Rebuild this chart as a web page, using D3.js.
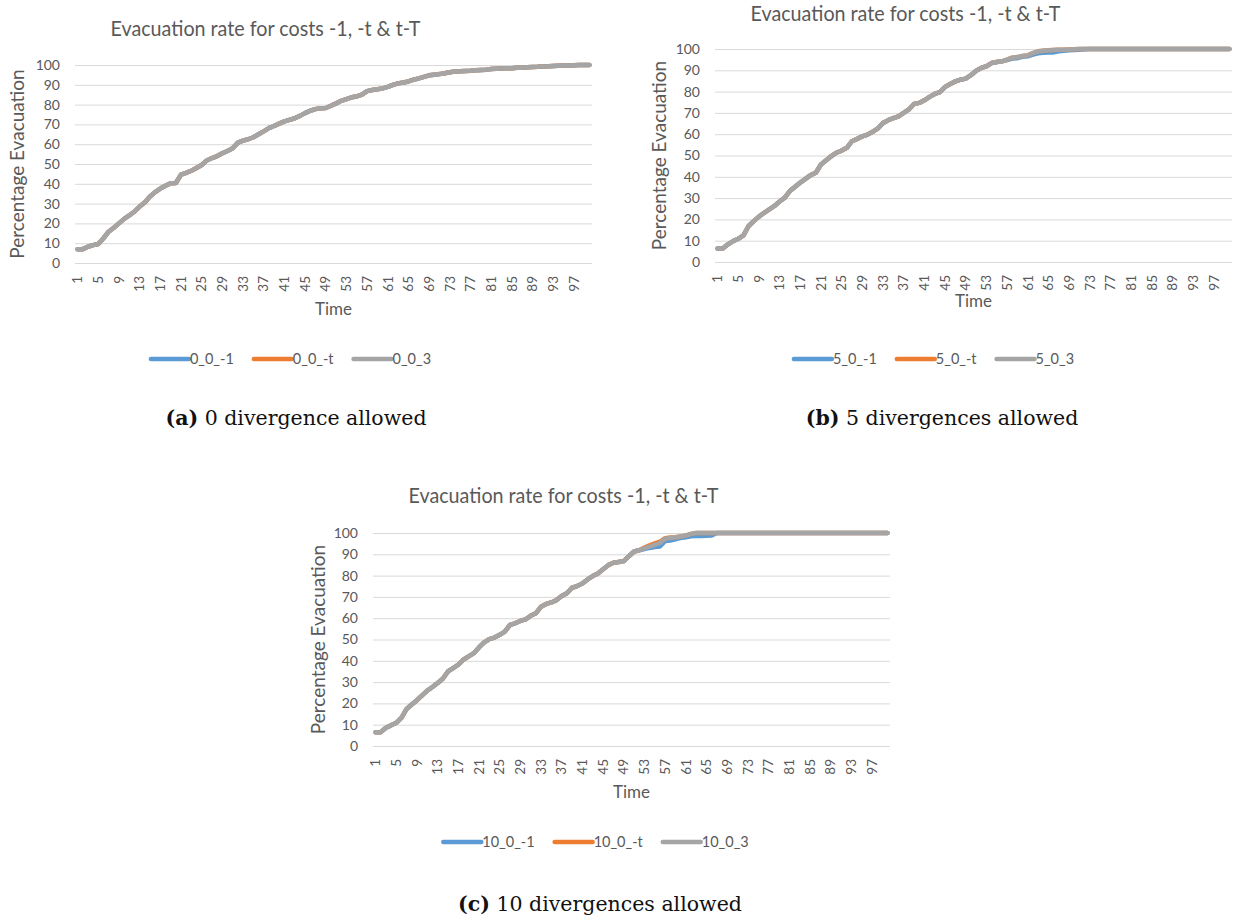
<!DOCTYPE html>
<html>
<head>
<meta charset="utf-8">
<script src="https://cdn.jsdelivr.net/npm/d3@7"></script>
<style>
  html, body { margin: 0; padding: 0; background: #ffffff; }
  svg { display: block; }
</style>
</head>
<body>
<svg id="fig" width="1237" height="920"></svg>
<script>
// ---------------- DATA ----------------
const timeSteps = d3.range(1, 101);                 // categories 1..100
const xTickLabels = [1,5,9,13,17,21,25,29,33,37,41,45,49,53,57,61,65,69,73,77,81,85,89,93,97];
const yTickLabels = [0,10,20,30,40,50,60,70,80,90,100];
const chartTitle = "Evacuation rate for costs -1, -t & t-T";
const xAxisTitle = "Time";
const yAxisTitle = "Percentage Evacuation";
const seriesColors = ["#5B9BD5", "#ED7D31", "#A5A5A5"];

// (a) 0 divergence
const a_names = ["0_0_-1", "0_0_-t", "0_0_3"];
const a_3 = [7.0,7.0,8.2,9.0,9.6,12.5,15.8,17.8,20.0,22.3,
  24.0,26.0,28.5,30.6,33.6,35.8,37.6,39.0,40.3,40.4,
  44.6,45.5,46.6,48.0,49.5,51.8,53.0,54.0,55.4,56.6,
  58.0,60.8,61.8,62.5,63.5,65.0,66.5,68.1,69.2,70.4,
  71.5,72.3,73.1,74.3,75.7,76.9,77.7,78.2,78.3,79.4,
  80.6,81.9,82.8,83.7,84.1,85.0,86.8,87.4,87.8,88.2,
  89.0,90.0,90.7,91.2,91.7,92.6,93.2,94.0,94.8,95.1,
  95.4,95.8,96.3,96.7,96.8,97.0,97.1,97.3,97.5,97.6,
  98.0,98.1,98.2,98.3,98.4,98.6,98.7,98.9,99.0,99.1,
  99.3,99.4,99.5,99.6,99.7,99.8,99.9,100,100,100];
const a_1 = [7.0,7.0,8.2,9.0,9.6,12.5,15.8,17.8,20.0,22.3,
  24.0,26.0,28.5,30.6,33.6,35.8,37.6,39.0,40.3,40.4,
  44.6,45.5,46.6,48.0,49.5,51.8,53.0,54.0,55.4,56.6,
  58.0,60.8,61.8,62.5,63.5,65.0,66.5,68.1,69.2,70.4,
  71.5,72.3,73.1,74.3,75.7,76.9,77.7,78.2,78.3,79.4,
  80.6,81.9,82.8,83.7,84.1,85.0,86.8,87.4,87.8,88.2,
  89.0,90.0,90.7,91.2,91.7,92.6,93.2,94.0,94.8,95.1,
  95.4,95.8,96.3,96.7,96.8,97.0,97.1,97.3,97.5,97.6,
  98.0,98.1,98.2,98.3,98.4,98.6,98.7,98.9,99.0,99.1,
  99.3,99.4,99.5,99.6,99.7,99.8,99.9,100,100,100];
const a_t = [7.0,7.0,8.2,9.0,9.6,12.5,15.8,17.8,20.0,22.3,
  24.0,26.0,28.5,30.6,33.6,35.8,37.6,39.0,40.3,40.4,
  44.6,45.5,46.6,48.0,49.5,51.8,53.0,54.0,55.4,56.6,
  58.0,60.8,61.8,62.5,63.5,65.0,66.5,68.1,69.2,70.4,
  71.5,72.3,73.1,74.3,75.7,76.9,77.7,78.2,78.3,79.4,
  80.6,81.9,82.8,83.7,84.1,85.0,86.8,87.4,87.8,88.2,
  89.0,90.0,90.7,91.2,91.7,92.6,93.2,94.0,94.8,95.1,
  95.4,95.8,96.3,96.7,96.8,97.0,97.1,97.3,97.5,97.6,
  98.0,98.1,98.2,98.3,98.4,98.6,98.7,98.9,99.0,99.1,
  99.3,99.4,99.5,99.6,99.7,99.8,99.9,100,100,100];

// (b) 5 divergences
const b_names = ["5_0_-1", "5_0_-t", "5_0_3"];
const b_3 = [6.3,6.3,8.3,9.8,10.9,12.5,16.9,19.2,21.3,23.1,
  24.7,26.3,28.4,30.2,33.4,35.3,37.3,39.0,40.8,41.9,
  45.8,47.8,49.7,51.3,52.3,53.6,56.7,57.8,59.0,59.8,
  61.1,62.7,65.3,66.6,67.5,68.4,70.0,71.6,74.2,74.7,
  75.9,77.5,78.9,79.8,82.2,83.6,84.8,85.6,86.1,87.7,
  89.8,91.1,91.9,93.4,93.9,94.2,95.0,95.9,96.2,96.7,
  97.0,98.1,98.9,99.2,99.4,99.5,99.6,99.7,99.8,99.9,
  100,100,100,100,100,100,100,100,100,100,
  100,100,100,100,100,100,100,100,100,100,
  100,100,100,100,100,100,100,100,100,100];
const b_t = [6.3,6.3,8.3,9.8,10.9,12.5,16.9,19.2,21.3,23.1,
  24.7,26.3,28.4,30.2,33.4,35.3,37.3,39.0,40.8,41.9,
  45.8,47.8,49.7,51.3,52.3,53.6,56.7,57.8,59.0,59.8,
  61.1,62.7,65.3,66.6,67.5,68.4,70.0,71.6,74.2,74.7,
  75.9,77.5,78.9,79.8,82.2,83.6,84.8,85.6,86.1,87.7,
  89.8,91.1,91.9,93.4,93.9,94.2,95.0,95.9,96.2,96.7,
  97.0,98.1,98.9,99.2,99.4,99.5,99.6,99.7,99.8,99.9,
  100,100,100,100,100,100,100,100,100,100,
  100,100,100,100,100,100,100,100,100,100,
  100,100,100,100,100,100,100,100,100,100];
const b_1 = [6.3,6.3,8.3,9.8,10.9,12.5,16.9,19.2,21.3,23.1,
  24.7,26.3,28.4,30.2,33.4,35.3,37.3,39.0,40.8,41.9,
  45.8,47.8,49.7,51.3,52.3,53.6,56.7,57.8,59.0,59.8,
  61.1,62.7,65.3,66.6,67.5,68.4,70.0,71.6,74.2,74.7,
  75.9,77.5,78.9,79.8,82.2,83.6,84.8,85.6,86.1,87.7,
  89.8,91.1,91.9,93.4,93.9,94.2,94.8,95.5,95.7,96.3,
  96.6,97.4,98.0,98.2,98.3,98.4,98.9,99.2,99.4,99.5,
  99.7,99.9,100,100,100,100,100,100,100,100,
  100,100,100,100,100,100,100,100,100,100,
  100,100,100,100,100,100,100,100,100,100];

// (c) 10 divergences
const c_names = ["10_0_-1", "10_0_-t", "10_0_3"];
const c_3 = [6.5,6.5,8.6,9.7,10.9,13.2,17.4,19.5,21.5,23.8,
  26.0,27.7,29.6,31.6,35.0,36.6,38.2,40.5,42.1,43.6,
  46.3,48.6,50.2,50.9,52.2,53.7,56.9,57.6,58.7,59.5,
  61.1,62.3,65.4,66.7,67.4,68.5,70.4,71.7,74.3,75.1,
  76.3,78.2,79.8,81.0,83.0,84.9,86.0,86.4,86.8,89.1,
  91.3,91.9,92.8,93.6,94.4,95.3,97.3,97.7,98.0,98.4,
  98.8,99.6,100,100,100,100,100,100,100,100,
  100,100,100,100,100,100,100,100,100,100,
  100,100,100,100,100,100,100,100,100,100,
  100,100,100,100,100,100,100,100,100,100];
const c_t = [6.5,6.5,8.6,9.7,10.9,13.2,17.4,19.5,21.5,23.8,
  26.0,27.7,29.6,31.6,35.0,36.6,38.2,40.5,42.1,43.6,
  46.3,48.6,50.2,50.9,52.2,53.7,56.9,57.6,58.7,59.5,
  61.1,62.3,65.4,66.7,67.4,68.5,70.4,71.7,74.3,75.1,
  76.3,78.2,79.8,81.0,83.0,84.9,86.0,86.4,86.8,89.1,
  91.3,91.9,93.2,94.2,95.1,95.9,97.6,97.9,98.0,98.4,
  98.8,99.6,100,100,100,100,100,100,100,100,
  100,100,100,100,100,100,100,100,100,100,
  100,100,100,100,100,100,100,100,100,100,
  100,100,100,100,100,100,100,100,100,100];
const c_1 = [6.5,6.5,8.6,9.7,10.9,13.2,17.4,19.5,21.5,23.8,
  26.0,27.7,29.6,31.6,35.0,36.6,38.2,40.5,42.1,43.6,
  46.3,48.6,50.2,50.9,52.2,53.7,56.9,57.6,58.7,59.5,
  61.1,62.3,65.4,66.7,67.4,68.5,70.4,71.7,74.3,75.1,
  76.3,78.2,79.8,81.0,83.0,84.9,86.0,86.4,86.8,89.1,
  91.3,91.9,92.5,93.0,93.4,93.7,96.2,96.5,97.0,97.7,
  98.0,98.5,98.6,98.6,98.7,98.8,100,100,100,100,
  100,100,100,100,100,100,100,100,100,100,
  100,100,100,100,100,100,100,100,100,100,
  100,100,100,100,100,100,100,100,100,100];

const captionLetters = ["(a)", "(b)", "(c)"];
const captionTexts = ["0 divergence allowed", "5 divergences allowed", "10 divergences allowed"];

// ---------------- LAYOUT ----------------
const panels = [
  { names: a_names, series: [a_1, a_t, a_3], left: 75, right: 592, top: 65, bottom: 263,
    titleY: 36, timeY: 315, yTitleX: 17, legendY: 359, legendCx: 291, capCx: 296, capY: 425 },
  { names: b_names, series: [b_1, b_t, b_3], left: 715, right: 1232, top: 49, bottom: 262,
    titleY: 21, timeY: 307, yTitleX: 659, legendY: 359, legendCx: 934, capCx: 942, capY: 425 },
  { names: c_names, series: [c_1, c_t, c_3], left: 373, right: 890, top: 533, bottom: 746,
    titleY: 503, timeY: 798, yTitleX: 318, legendY: 842, legendCx: 596, capCx: 600, capY: 911 }
];

const svg = d3.select("#fig");
svg.append("rect").attr("width", 1237).attr("height", 920).attr("fill", "#fff");
const FONT = "Lato, 'Open Sans', sans-serif";
const TXT = "#595959";

panels.forEach((p, pi) => {
  const g = svg.append("g");
  const x = d3.scaleBand().domain(timeSteps).range([p.left, p.right]).paddingInner(0).paddingOuter(0);
  const y = d3.scaleLinear().domain([0, 100]).range([p.bottom, p.top]);
  const cx = d => x(d) + x.bandwidth() / 2;

  // gridlines + y labels
  const yAxis = d3.axisLeft(y).tickValues(yTickLabels).tickSize(-(p.right - p.left)).tickPadding(15);
  const ya = g.append("g").attr("transform", `translate(${p.left},0)`).call(yAxis);
  ya.select(".domain").remove();
  ya.selectAll(".tick line").attr("stroke", "#d9d9d9").attr("stroke-width", 1);
  ya.selectAll(".tick text").attr("fill", TXT).attr("font-family", FONT).attr("font-size", 14);

  // x axis labels (rotated)
  const xAxis = d3.axisBottom(x).tickValues(xTickLabels).tickSize(0).tickPadding(0);
  const xa = g.append("g").attr("transform", `translate(0,${p.bottom})`).call(xAxis);
  xa.select(".domain").remove();
  xa.selectAll(".tick text")
    .attr("fill", TXT).attr("font-family", FONT).attr("font-size", 13.5)
    .attr("text-anchor", "end")
    .attr("transform", "translate(0,13) rotate(-90)")
    .attr("x", 0).attr("y", 0).attr("dy", "0.35em");

  // lines
  const line = d3.line().x((d, i) => cx(timeSteps[i])).y(d => y(d));
  p.series.forEach((s, si) => {
    g.append("path").datum(s).attr("d", line)
      .attr("fill", "none").attr("stroke", seriesColors[si])
      .attr("stroke-width", 4.5).attr("stroke-linejoin", "round").attr("stroke-linecap", "round");
  });

  // title
  g.append("text").attr("x", (p.left + p.right) / 2 - 68).attr("y", p.titleY)
    .attr("text-anchor", "middle").attr("fill", TXT).attr("font-family", FONT)
    .attr("font-size", 21).attr("textLength", 310).attr("lengthAdjust", "spacingAndGlyphs")
    .text(chartTitle);

  // axis titles
  g.append("text").attr("x", (p.left + p.right) / 2).attr("y", p.timeY)
    .attr("text-anchor", "middle").attr("fill", TXT).attr("font-family", FONT)
    .attr("font-size", 17).text(xAxisTitle);
  g.append("text").attr("transform", `translate(${p.yTitleX},${(p.top + p.bottom) / 2}) rotate(-90)`)
    .attr("text-anchor", "middle").attr("dy", "0.35em").attr("fill", TXT).attr("font-family", FONT)
    .attr("font-size", 19).text(yAxisTitle);

  // legend
  const lg = g.append("g");
  let off = 0;
  p.names.forEach((n, ni) => {
    const it = lg.append("g").attr("transform", `translate(${off},0)`);
    it.append("line").attr("x1", 0).attr("x2", 38).attr("y1", 0).attr("y2", 0)
      .attr("stroke", seriesColors[ni]).attr("stroke-width", 4.5).attr("stroke-linecap", "round");
    const t = it.append("text").attr("x", 39).attr("dy", "0.35em").attr("fill", TXT)
      .attr("font-family", FONT).attr("font-size", 14.5).text(n);
    const w = 39 + t.node().getComputedTextLength();
    off += w + (ni < p.names.length - 1 ? 20 : 0);
  });
  lg.attr("transform", `translate(${p.legendCx - off / 2},${p.legendY})`);

  // caption
  const cap = svg.append("text").attr("x", p.capCx).attr("y", p.capY)
    .attr("text-anchor", "middle").attr("fill", "#111")
    .attr("font-family", "'DejaVu Serif', 'Liberation Serif', serif").attr("font-size", 20.5);
  cap.append("tspan").attr("font-weight", "bold").text(captionLetters[pi]);
  cap.append("tspan").text(" " + captionTexts[pi]);
});
</script>
</body>
</html>
